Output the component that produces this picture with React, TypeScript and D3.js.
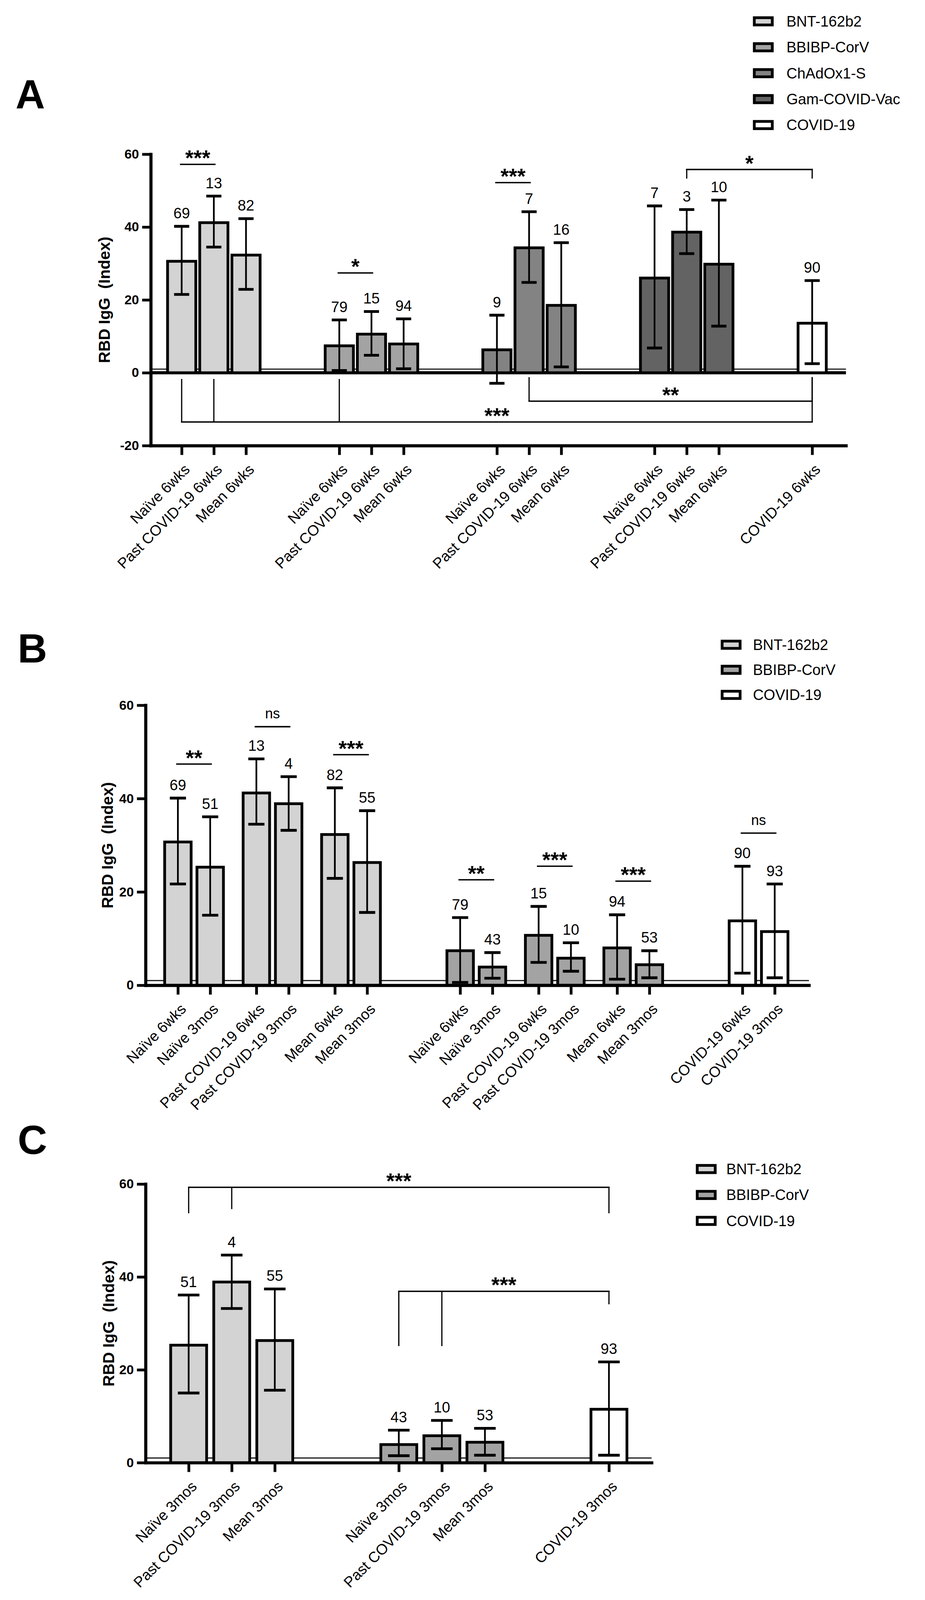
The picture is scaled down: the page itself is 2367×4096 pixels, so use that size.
import React, { useRef, useEffect } from "react";
import * as d3 from "d3";

const SCALE = 0.885;
const FONT = "'Liberation Sans', Arial, Helvetica, sans-serif";

// vaccine groups and their fills
const vaccines = ["BNT-162b2", "BBIBP-CorV", "ChAdOx1-S", "Gam-COVID-Vac", "COVID-19"];
const vaccineFill = ["#d3d3d3", "#a3a3a3", "#838383", "#636363", "#ffffff"];

// Panel A - 6 weeks
const labelsA = [
  "Naïve 6wks", "Past COVID-19 6wks", "Mean 6wks",
  "Naïve 6wks", "Past COVID-19 6wks", "Mean 6wks",
  "Naïve 6wks", "Past COVID-19 6wks", "Mean 6wks",
  "Naïve 6wks", "Past COVID-19 6wks", "Mean 6wks",
  "COVID-19 6wks",
];
const groupA = [0, 0, 0, 1, 1, 1, 2, 2, 2, 3, 3, 3, 4];
const meanA = [30.6, 41.2, 32.3, 7.4, 10.6, 7.9, 6.3, 34.3, 18.5, 26.0, 38.6, 29.8, 13.6];
const upperA = [40.2, 48.5, 42.3, 14.5, 16.8, 14.8, 15.8, 44.2, 35.7, 45.8, 44.8, 47.4, 25.3];
const lowerA = [21.5, 34.5, 22.9, 0.6, 4.8, 1.1, -2.9, 24.8, 1.6, 6.8, 32.7, 12.8, 2.5];
const nA = [69, 13, 82, 79, 15, 94, 9, 7, 16, 7, 3, 10, 90];
const pairsA = [
  { a: 0, b: 1, y: 57.2, label: "***" },
  { a: 3, b: 4, y: 27.4, label: "*" },
  { a: 6, b: 7, y: 52.2, label: "***" },
];
const bracketsA = [
  { legs: [[10, 53.3], [12, 53.3]], y: 55.8, label: "*" },
  { legs: [[7, -1.2], [12, -1.2]], y: -7.8, label: "**" },
  { legs: [[0, -1.7], [1, -1.7], [3, -1.7], [12, -1.2]], y: -13.5, label: "***" },
];

// Panel B - 6 weeks vs 3 months
const labelsB = [
  "Naïve 6wks", "Naïve 3mos", "Past COVID-19 6wks", "Past COVID-19 3mos", "Mean 6wks", "Mean 3mos",
  "Naïve 6wks", "Naïve 3mos", "Past COVID-19 6wks", "Past COVID-19 3mos", "Mean 6wks", "Mean 3mos",
  "COVID-19 6wks", "COVID-19 3mos",
];
const groupB = [0, 0, 0, 0, 0, 0, 1, 1, 1, 1, 1, 1, 4, 4];
const meanB = [30.7, 25.3, 41.2, 38.9, 32.3, 26.3, 7.4, 3.9, 10.7, 5.8, 8.0, 4.4, 13.8, 11.5];
const upperB = [40.1, 36.1, 48.5, 44.7, 42.3, 37.4, 14.5, 7.0, 16.9, 9.1, 15.1, 7.4, 25.5, 21.7];
const lowerB = [21.7, 15.0, 34.5, 33.2, 22.9, 15.6, 0.6, 1.5, 4.9, 3.0, 1.3, 1.6, 2.6, 1.6];
const nB = [69, 51, 13, 4, 82, 55, 79, 43, 15, 10, 94, 53, 90, 93];
const pairsB = [
  { a: 0, b: 1, y: 47.4, label: "**" },
  { a: 2, b: 3, y: 55.4, label: "ns" },
  { a: 4, b: 5, y: 49.4, label: "***" },
  { a: 6, b: 7, y: 22.6, label: "**" },
  { a: 8, b: 9, y: 25.5, label: "***" },
  { a: 10, b: 11, y: 22.3, label: "***" },
  { a: 12, b: 13, y: 32.6, label: "ns" },
];

// Panel C - 3 months
const labelsC = [
  "Naïve 3mos", "Past COVID-19 3mos", "Mean 3mos",
  "Naïve 3mos", "Past COVID-19 3mos", "Mean 3mos",
  "COVID-19 3mos",
];
const groupC = [0, 0, 0, 1, 1, 1, 4];
const meanC = [25.3, 38.9, 26.3, 3.9, 5.8, 4.4, 11.5];
const upperC = [36.1, 44.7, 37.4, 7.0, 9.1, 7.4, 21.7];
const lowerC = [15.0, 33.2, 15.6, 1.5, 3.0, 1.6, 1.6];
const nC = [51, 4, 55, 43, 10, 53, 93];
const bracketsC = [
  { legs: [[0, 53.7], [1, 54.6], [6, 53.7]], y: 59.3, label: "***" },
  { legs: [[3, 25.1], [4, 25.1], [6, 34.1]], y: 36.9, label: "***" },
];

const panels = [
  {
    letter: "A", letterX: 45, letterY: 313,
    legend: [0, 1, 2, 3, 4], legendX: 2177, legendY: 61.7, legendStep: 75, legendDx: 97,
    left: 436, right: 2446, top: 446, bottom: 1289,
    yDomain: [-20, 60], yTicks: [-20, 0, 20, 40, 60],
    xDomain: [-0.96, 20.65], steps: [0, 1, 1, 2.9, 1, 1, 2.9, 1, 1, 2.9, 1, 1, 2.9],
    barFrac: 0.877, capFrac: 0.47, titleX: 317,
    labels: labelsA, group: groupA, mean: meanA, upper: upperA, lower: lowerA, n: nA,
    pairs: pairsA, brackets: bracketsA,
  },
  {
    letter: "B", letterX: 51, letterY: 1916,
    legend: [0, 1, 4], legendX: 2084, legendY: 1865, legendStep: 72.5, legendDx: 93,
    left: 421, right: 2339, top: 2040, bottom: 2850,
    yDomain: [0, 60], yTicks: [0, 20, 40, 60],
    xDomain: [-1, 19.54], steps: [0, 1, 1.43, 1, 1.43, 1, 2.88, 1, 1.43, 1, 1.43, 1, 2.88, 1],
    barFrac: 0.82, capFrac: 0.5, titleX: 327,
    labels: labelsB, group: groupB, mean: meanB, upper: upperB, lower: lowerB, n: nB,
    pairs: pairsB, brackets: [],
  },
  {
    letter: "C", letterX: 51, letterY: 3338,
    legend: [0, 1, 4], legendX: 2012, legendY: 3381.6, legendStep: 75, legendDx: 88,
    left: 421, right: 1884, top: 3425, bottom: 4231,
    yDomain: [0, 60], yTicks: [0, 20, 40, 60],
    xDomain: [-1, 10.75], steps: [0, 1, 1, 2.88, 1, 1, 2.88],
    barFrac: 0.835, capFrac: 0.5, titleX: 330,
    labels: labelsC, group: groupC, mean: meanC, upper: upperC, lower: lowerC, n: nC,
    pairs: [], brackets: bracketsC,
  },
];

const drawPanel = (root, p) => {
  const g = root.append("g");
  const pos = Array.from(d3.cumsum(p.steps));
  const x = d3.scaleLinear().domain(p.xDomain).range([p.left, p.right]);
  const y = d3.scaleLinear().domain(p.yDomain).range([p.bottom, p.top]);
  const slot = x(1) - x(0);
  const bw = slot * p.barFrac;
  const cw = slot * p.capFrac;

  // panel letter
  g.append("text")
    .attr("x", p.letterX)
    .attr("y", p.letterY)
    .text(p.letter)
    .style("font-size", "118px")
    .style("font-weight", "bold");

  // legend
  p.legend.forEach((vi, k) => {
    const cy = p.legendY + k * p.legendStep;
    g.append("rect")
      .attr("x", p.legendX + 4)
      .attr("y", cy - 10.5)
      .attr("width", 52)
      .attr("height", 21)
      .attr("fill", vaccineFill[vi])
      .attr("stroke", "#000")
      .attr("stroke-width", 8);
    g.append("text")
      .attr("x", p.legendX + p.legendDx)
      .attr("y", cy)
      .attr("dy", "0.35em")
      .text(vaccines[vi])
      .style("font-size", "43px");
  });

  // cut-off line at index 1
  g.append("line")
    .attr("x1", p.left)
    .attr("x2", p.right)
    .attr("y1", y(1))
    .attr("y2", y(1))
    .attr("stroke", "#1a1a1a")
    .attr("stroke-width", 3.5);

  // zero line when the axis goes negative
  if (p.yDomain[0] < 0) {
    g.append("line")
      .attr("x1", p.left)
      .attr("x2", p.right)
      .attr("y1", y(0))
      .attr("y2", y(0))
      .attr("stroke", "#000")
      .attr("stroke-width", 9);
  }

  // bars
  p.mean.forEach((m, i) => {
    const cx = x(pos[i]);
    g.append("rect")
      .attr("x", cx - bw / 2)
      .attr("y", y(m))
      .attr("width", bw)
      .attr("height", y(0) - y(m))
      .attr("fill", vaccineFill[p.group[i]])
      .attr("stroke", "#000")
      .attr("stroke-width", 8);
  });

  // error bars + n labels
  p.mean.forEach((m, i) => {
    const cx = x(pos[i]);
    const yu = y(p.upper[i]);
    const yl = y(p.lower[i]);
    g.append("line").attr("x1", cx).attr("x2", cx).attr("y1", yu).attr("y2", yl)
      .attr("stroke", "#000").attr("stroke-width", 5);
    [yu, yl].forEach((yy) => {
      g.append("line").attr("x1", cx - cw / 2).attr("x2", cx + cw / 2).attr("y1", yy).attr("y2", yy)
        .attr("stroke", "#000").attr("stroke-width", 8);
    });
    g.append("text")
      .attr("x", cx)
      .attr("y", yu - 23)
      .attr("text-anchor", "middle")
      .text(p.n[i])
      .style("font-size", "43px");
  });

  const sigText = (sx, ly, label) => {
    const stars = label.includes("*");
    g.append("text")
      .attr("x", sx)
      .attr("y", stars ? ly + 3 : ly - 24)
      .attr("text-anchor", "middle")
      .text(label)
      .style("font-size", stars ? "62px" : "41px")
      .style("font-weight", stars ? "bold" : "normal");
  };

  // significance between neighbours
  p.pairs.forEach((s) => {
    const x1 = x(pos[s.a]) - 5;
    const x2 = x(pos[s.b]) + 5;
    g.append("line").attr("x1", x1).attr("x2", x2).attr("y1", y(s.y)).attr("y2", y(s.y))
      .attr("stroke", "#000").attr("stroke-width", 4);
    sigText((x1 + x2) / 2, y(s.y), s.label);
  });

  // brackets
  p.brackets.forEach((b) => {
    const xs = b.legs.map(([i]) => x(pos[i]));
    const x1 = d3.min(xs);
    const x2 = d3.max(xs);
    g.append("line").attr("x1", x1).attr("x2", x2).attr("y1", y(b.y)).attr("y2", y(b.y))
      .attr("stroke", "#000").attr("stroke-width", 4).attr("stroke-linecap", "square");
    b.legs.forEach(([i, d]) => {
      g.append("line").attr("x1", x(pos[i])).attr("x2", x(pos[i])).attr("y1", y(d)).attr("y2", y(b.y))
        .attr("stroke", "#000").attr("stroke-width", 3.5);
    });
    sigText((x1 + x2) / 2, y(b.y), b.label);
  });

  // y axis
  const ya = g.append("g")
    .attr("transform", `translate(${p.left},0)`)
    .call(d3.axisLeft(y).tickValues(p.yTicks).tickSize(25).tickSizeOuter(0).tickPadding(9).tickFormat(d3.format("d")));
  ya.select(".domain").attr("stroke-width", 9).attr("stroke-linecap", "square");
  ya.selectAll(".tick line").attr("stroke-width", 8);
  ya.selectAll(".tick text")
    .attr("font-family", FONT)
    .style("font-size", "38px")
    .style("font-weight", "bold")
    .attr("fill", "#000")
    .text((d) => (d < 0 ? `-${-d}` : `${d}`));

  // x axis
  const xa = g.append("g")
    .attr("transform", `translate(0,${p.bottom})`)
    .call(d3.axisBottom(x).tickValues(pos).tickSize(27).tickSizeOuter(0).tickFormat((d, i) => p.labels[i]));
  xa.select(".domain").attr("stroke-width", 9).attr("stroke-linecap", "square");
  xa.selectAll(".tick line").attr("stroke-width", 8);
  xa.selectAll(".tick text")
    .attr("font-family", FONT)
    .style("font-size", "43px")
    .attr("fill", "#000")
    .attr("x", 0)
    .attr("y", 0)
    .attr("dy", "0.35em")
    .attr("text-anchor", "end")
    .attr("transform", "translate(15,61) rotate(-45)");

  // y title
  g.append("text")
    .attr("transform", `translate(${p.titleX},${(p.top + p.bottom) / 2}) rotate(-90)`)
    .attr("text-anchor", "middle")
    .style("font-size", "46px")
    .style("font-weight", "bold")
    .style("white-space", "pre")
    .text("RBD IgG  (Index)");
};

const App = () => {
  const ref = useRef(null);

  useEffect(() => {
    const svg = d3.select(ref.current);
    svg.selectAll("*").remove();
    const root = svg.append("g")
      .attr("transform", `scale(${SCALE})`)
      .attr("font-family", FONT)
      .attr("fill", "#000");
    panels.forEach((p) => drawPanel(root, p));
  }, []);

  return (
    <svg
      ref={ref}
      width={2367}
      height={4096}
      style={{ position: "absolute", left: 0, top: 0, background: "#fff" }}
    />
  );
};

export default App;
